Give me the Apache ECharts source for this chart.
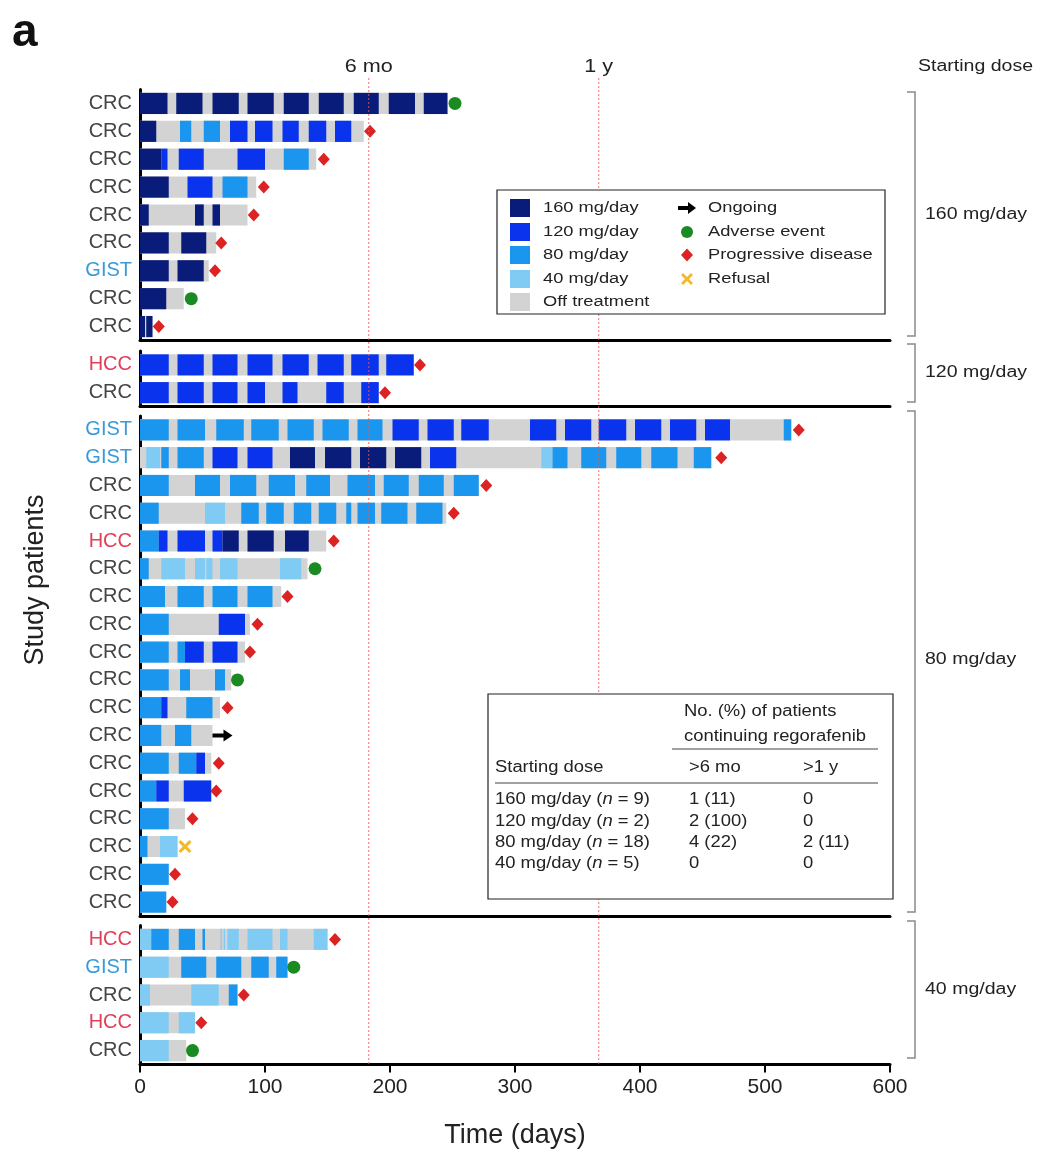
<!DOCTYPE html>
<html>
<head>
<meta charset="utf-8">
<script src="https://cdn.jsdelivr.net/npm/echarts@6/dist/echarts.min.js"></script>
<style>
  html, body { margin: 0; padding: 0; background: #fff; }
  #main { width: 1049px; height: 1157px; }
</style>
</head>
<body>
<div id="main"></div>
<script>
// tumour type of each patient, one list per starting dose
const tumor160 = ["CRC", "CRC", "CRC", "CRC", "CRC", "CRC", "GIST", "CRC", "CRC"];
const tumor120 = ["HCC", "CRC"];
const tumor80 = ["GIST", "GIST", "CRC", "CRC", "HCC", "CRC", "CRC", "CRC", "CRC", "CRC", "CRC", "CRC", "CRC", "CRC", "CRC", "CRC", "CRC", "CRC"];
const tumor40 = ["HCC", "GIST", "CRC", "HCC", "CRC"];

// last day on study (grey bar runs 0 -> here)
const end160 = [246, 179, 141, 93, 86, 61, 55, 35, 10];
const end120 = [219, 191];
const end80 = [521, 457, 271, 245, 149, 134, 113, 88, 84, 73, 64, 58, 57, 57, 36, 30, 23, 21];
const end40 = [150, 118, 78, 44, 37];

// why the course ended, and the day the marker sits on
// AE adverse event, PD progressive disease, ON ongoing, RF refusal
const event160 = [["AE", 252], ["PD", 184], ["PD", 147], ["PD", 99], ["PD", 91], ["PD", 65], ["PD", 60], ["AE", 41], ["PD", 15]];
const event120 = [["PD", 224], ["PD", 196]];
const event80 = [["PD", 527], ["PD", 465], ["PD", 277], ["PD", 251], ["PD", 155], ["AE", 140], ["PD", 118], ["PD", 94], ["PD", 88], ["AE", 78], ["PD", 70], ["ON", 66], ["PD", 63], ["PD", 61], ["PD", 42], ["RF", 36], ["PD", 28], ["PD", 26]];
const event40 = [["PD", 156], ["AE", 123], ["PD", 83], ["PD", 49], ["AE", 42]];

// dosing periods per patient: [start day, end day, mg/day]
const seg160 = [
  [[0, 22, 160], [29, 50, 160], [58, 79, 160], [86, 107, 160], [115, 135, 160], [143, 163, 160], [171, 191, 160], [199, 220, 160], [227, 246, 160]],
  [[0, 13, 160], [32, 41, 80], [51, 64, 80], [72, 86, 120], [92, 106, 120], [114, 127, 120], [135, 149, 120], [156, 169, 120]],
  [[0, 17, 160], [17, 22, 120], [31, 51, 120], [78, 100, 120], [115, 135, 80]],
  [[0, 23, 160], [38, 58, 120], [66, 86, 80]],
  [[0, 7, 160], [44, 51, 160], [58, 64, 160]],
  [[0, 23, 160], [33, 53, 160]],
  [[0, 23, 160], [30, 51, 160]],
  [[0, 21, 160]],
  [[0, 4, 160], [5, 10, 160]],
];
const seg120 = [
  [[0, 23, 120], [30, 51, 120], [58, 78, 120], [86, 106, 120], [114, 135, 120], [142, 163, 120], [169, 191, 120], [197, 219, 120]],
  [[0, 23, 120], [30, 51, 120], [58, 78, 120], [86, 100, 120], [114, 126, 120], [149, 163, 120], [177, 191, 120]],
];
const seg80 = [
  [[0, 23, 80], [30, 52, 80], [61, 83, 80], [89, 111, 80], [118, 139, 80], [146, 167, 80], [174, 194, 80], [202, 223, 120], [230, 251, 120], [257, 279, 120], [312, 333, 120], [340, 361, 120], [367, 389, 120], [396, 417, 120], [424, 445, 120], [452, 472, 120], [515, 521, 80]],
  [[5, 16, 40], [17, 23, 80], [30, 51, 80], [58, 78, 120], [86, 106, 120], [120, 140, 160], [148, 169, 160], [176, 197, 160], [204, 225, 160], [232, 253, 120], [321, 330, 40], [330, 342, 80], [353, 373, 80], [381, 401, 80], [409, 430, 80], [443, 457, 80]],
  [[0, 23, 80], [44, 64, 80], [72, 93, 80], [103, 124, 80], [133, 152, 80], [166, 188, 80], [195, 215, 80], [223, 243, 80], [251, 271, 80]],
  [[0, 15, 80], [52, 68, 40], [81, 95, 80], [101, 115, 80], [123, 137, 80], [143, 157, 80], [165, 169, 80], [174, 188, 80], [193, 214, 80], [221, 242, 80]],
  [[0, 15, 80], [15, 22, 120], [30, 52, 120], [58, 66, 120], [66, 79, 160], [86, 107, 160], [116, 135, 160]],
  [[0, 7, 80], [17, 36, 40], [44, 52, 40], [53, 58, 40], [64, 78, 40], [112, 129, 40]],
  [[0, 20, 80], [30, 51, 80], [58, 78, 80], [86, 106, 80]],
  [[0, 23, 80], [63, 84, 120]],
  [[0, 23, 80], [30, 36, 80], [36, 51, 120], [58, 78, 120]],
  [[0, 23, 80], [32, 40, 80], [60, 68, 80]],
  [[0, 17, 80], [17, 22, 120], [37, 58, 80]],
  [[0, 17, 80], [28, 41, 80]],
  [[0, 23, 80], [31, 45, 80], [45, 52, 120]],
  [[0, 13, 80], [13, 23, 120], [35, 57, 120]],
  [[0, 23, 80]],
  [[0, 6, 80], [16, 30, 40]],
  [[0, 23, 80]],
  [[0, 21, 80]],
];
const seg40 = [
  [[0, 9, 40], [9, 23, 80], [31, 44, 80], [50, 52, 80], [64.5, 65.5, 40], [67, 68, 40], [70, 79, 40], [86, 106, 40], [112, 118, 40], [139, 150, 40]],
  [[0, 23, 40], [33, 53, 80], [61, 81, 80], [89, 103, 80], [109, 118, 80]],
  [[0, 8, 40], [41, 63, 40], [71, 78, 80]],
  [[0, 23, 40], [31, 44, 40]],
  [[0, 23, 40]],
];

// reference times
const refDays = [183, 367];
const refNames = ["6 mo", "1 y"];

// summary table
const tableDose = ["160 mg/day ({i|n} = 9)", "120 mg/day ({i|n} = 2)", "80 mg/day ({i|n} = 18)", "40 mg/day ({i|n} = 5)"];
const table6mo = ["1 (11)", "2 (100)", "4 (22)", "0"];
const table1y = ["0", "0", "2 (11)", "0"];

const doseNames = ["160 mg/day", "120 mg/day", "80 mg/day", "40 mg/day"];

const FONT = "Liberation Sans, Arial, sans-serif";
const doseColor = { 160: "#0a1c7a", 120: "#0a33ee", 80: "#1a96ee", 40: "#80cbf3", 0: "#d3d3d3" };
const evColor = { AE: "#1a8a22", PD: "#dc2222", ON: "#000000", RF: "#f5b928" };
const evSymbol = {
  AE: "circle",
  PD: "diamond",
  ON: "path://M0,4L11,4L11,0L20,6L11,12L11,8L0,8Z",
  RF: "path://M2,0L6,4L10,0L12,2L8,6L12,10L10,12L6,8L2,12L0,10L4,6L0,2Z",
};
const evSize = { AE: 13, PD: [12, 13], ON: [20, 12], RF: 13 };

// panel layout (px)
const panelTop = [89.5, 351, 416, 925.5];
const panelHeight = [251, 55.5, 500, 139];
const left = 140, right = 159;

const tumors = [tumor160, tumor120, tumor80, tumor40];
const ends = [end160, end120, end80, end40];
const events = [event160, event120, event80, event40];
const segs = [seg160, seg120, seg80, seg40];

let myChart = echarts.init(document.getElementById("main"));

let grid = [], xAxis = [], yAxis = [], series = [];

tumors.forEach((tumor, g) => {
  const last = g === 3;
  grid.push({ left: left, right: right, top: panelTop[g], height: panelHeight[g] });
  xAxis.push({
    gridIndex: g,
    type: "value",
    min: 0,
    max: 600,
    interval: 100,
    axisLine: { show: true, onZero: false, lineStyle: { color: "#000", width: 3 } },
    axisTick: { show: last, length: 8, lineStyle: { color: "#000", width: 2 } },
    axisLabel: { show: last, fontSize: 21, color: "#222", margin: 12, fontFamily: FONT },
    splitLine: { show: false },
    name: last ? "Time (days)" : "",
    nameLocation: "middle",
    nameGap: 58,
    nameTextStyle: { fontSize: 27, color: "#222", fontFamily: FONT },
  });
  yAxis.push({
    gridIndex: g,
    type: "category",
    inverse: true,
    data: tumor,
    axisLine: { show: true, lineStyle: { color: "#000", width: 3 } },
    axisTick: { show: false },
    axisLabel: {
      interval: 0,
      margin: 8,
      fontSize: 20,
      color: "#444",
      fontFamily: FONT,
      formatter: (v) => (v === "GIST" ? "{g|GIST}" : v === "HCC" ? "{h|HCC}" : v),
      rich: {
        g: { color: "#3a9ad9", fontSize: 20, fontFamily: FONT },
        h: { color: "#e0405a", fontSize: 20, fontFamily: FONT },
      },
    },
    splitLine: { show: false },
  });

  // grey course first, then dosing periods on top
  let barData = [];
  ends[g].forEach((e, row) => barData.push([0, e, row, 0]));
  segs[g].forEach((list, row) => list.forEach((s) => barData.push([s[0], s[1], row, s[2]])));

  series.push({
    type: "custom",
    xAxisIndex: g,
    yAxisIndex: g,
    renderItem: (params, api) => {
      const row = api.value(2);
      const s = api.coord([api.value(0), row]);
      const e = api.coord([api.value(1), row]);
      const h = api.size([0, 1])[1] * 0.76;
      return {
        type: "rect",
        shape: { x: s[0], y: s[1] - h / 2, width: e[0] - s[0], height: h },
        style: { fill: doseColor[api.value(3)] },
      };
    },
    encode: { x: [0, 1], y: 2 },
    data: barData,
    z: 2,
  });

  series.push({
    type: "scatter",
    xAxisIndex: g,
    yAxisIndex: g,
    data: events[g].map((ev, row) => [ev[1], row, ev[0]]),
    symbol: (val) => evSymbol[val[2]],
    symbolSize: (val) => evSize[val[2]],
    itemStyle: { color: (p) => evColor[p.value[2]], opacity: 1 },
    z: 4,
  });
});

// overlay covering all panels for the 6 mo / 1 y guides
grid.push({ left: left, right: right, top: 78, height: 1064.5 - 78 });
xAxis.push({ gridIndex: 4, type: "value", min: 0, max: 600, show: false });
yAxis.push({ gridIndex: 4, type: "value", min: 0, max: 1, show: false });
series.push({
  type: "custom",
  xAxisIndex: 4,
  yAxisIndex: 4,
  renderItem: (params, api) => {
    const top = api.coord([api.value(0), 1]);
    const bottom = api.coord([api.value(0), 0]);
    return {
      type: "group",
      children: [
        {
          type: "line",
          shape: { x1: top[0], y1: top[1], x2: bottom[0], y2: bottom[1] },
          style: { stroke: "rgba(228,90,90,0.85)", lineWidth: 1, lineDash: [2, 2] },
        },
        {
          type: "text",
          x: top[0],
          y: top[1] - 11,
          scaleX: 1.2,
          style: {
            text: refNames[params.dataIndex],
            x: 0,
            y: 0,
            align: "center",
            verticalAlign: "middle",
            fontSize: 18,
            fill: "#222",
            fontFamily: FONT,
          },
        },
      ],
    };
  },
  data: refDays.map((d) => [d]),
  z: 6,
});

// legend, table, dose brackets
function txt(x, y, s, size, sx, extra) {
  return Object.assign(
    {
      type: "text",
      x: x,
      y: y,
      scaleX: sx || 1,
      style: {
        text: s,
        fontSize: size,
        fill: "#222",
        fontFamily: FONT,
        verticalAlign: "middle",
        rich: { i: { fontStyle: "italic", fontSize: size, fontFamily: FONT, fill: "#222" } },
      },
    },
    extra || {}
  );
}

let graphic = [];

graphic.push({ type: "text", left: 12, top: 10, style: { text: "a", fontSize: 46, fontWeight: "bold", fill: "#111", fontFamily: FONT } });
graphic.push(txt(36, 580, "Study patients", 27, 1, { rotation: Math.PI / 2, style: { text: "Study patients", fontSize: 27, fill: "#222", fontFamily: FONT, align: "center", verticalAlign: "middle" } }));
graphic.push(txt(918, 67, "Starting dose", 16, 1.22));

// brackets
const brackets = [[92, 336], [344, 402], [411, 912], [921, 1058]];
const bracketLabelY = [215, 373, 660, 990];
brackets.forEach((b, i) => {
  graphic.push({
    type: "polyline",
    shape: { points: [[907, b[0]], [915, b[0]], [915, b[1]], [907, b[1]]] },
    style: { stroke: "#8a8a8a", lineWidth: 1.5, fill: null },
  });
  graphic.push(txt(925, bracketLabelY[i], doseNames[i], 16, 1.22));
});

// legend box
const lgLeft = 497, lgTop = 190;
graphic.push({ type: "rect", shape: { x: lgLeft, y: lgTop, width: 388, height: 124 }, style: { fill: "#fff", stroke: "#222", lineWidth: 1.2 }, z: 20 });
const lgRows = [208, 232, 255, 279, 302];
[160, 120, 80, 40, 0].forEach((d, i) => {
  graphic.push({ type: "rect", shape: { x: 510, y: lgRows[i] - 9, width: 20, height: 18 }, style: { fill: doseColor[d] }, z: 21 });
  graphic.push(Object.assign(txt(543, lgRows[i], i < 4 ? doseNames[i] : "Off treatment", 15.5, 1.18), { z: 21 }));
});
const sx = 687;
graphic.push({ type: "polygon", shape: { points: [[sx - 9, lgRows[0] - 2], [sx + 1, lgRows[0] - 2], [sx + 1, lgRows[0] - 6], [sx + 9, lgRows[0]], [sx + 1, lgRows[0] + 6], [sx + 1, lgRows[0] + 2], [sx - 9, lgRows[0] + 2]] }, style: { fill: "#000" }, z: 21 });
graphic.push({ type: "circle", shape: { cx: sx, cy: lgRows[1], r: 6 }, style: { fill: evColor.AE }, z: 21 });
graphic.push({ type: "polygon", shape: { points: [[sx, lgRows[2] - 6.5], [sx + 6, lgRows[2]], [sx, lgRows[2] + 6.5], [sx - 6, lgRows[2]]] }, style: { fill: evColor.PD }, z: 21 });
graphic.push({
  type: "polygon",
  shape: { points: [[-4, -6], [0, -2], [4, -6], [6, -4], [2, 0], [6, 4], [4, 6], [0, 2], [-4, 6], [-6, 4], [-2, 0], [-6, -4]].map((p) => [sx + p[0], lgRows[3] + p[1]]) },
  style: { fill: evColor.RF },
  z: 21,
});
["Ongoing", "Adverse event", "Progressive disease", "Refusal"].forEach((s, i) => {
  graphic.push(Object.assign(txt(708, lgRows[i], s, 15.5, 1.18), { z: 21 }));
});

// summary table
graphic.push({ type: "rect", shape: { x: 488, y: 694, width: 405, height: 205 }, style: { fill: "#fff", stroke: "#222", lineWidth: 1.2 }, z: 20 });
graphic.push(Object.assign(txt(684, 712, "No. (%) of patients", 16, 1.15), { z: 21 }));
graphic.push(Object.assign(txt(684, 737, "continuing regorafenib", 16, 1.15), { z: 21 }));
graphic.push({ type: "line", shape: { x1: 672, y1: 749, x2: 878, y2: 749 }, style: { stroke: "#444", lineWidth: 1 }, z: 21 });
graphic.push(Object.assign(txt(495, 768, "Starting dose", 16, 1.15), { z: 21 }));
graphic.push(Object.assign(txt(689, 768, ">6 mo", 16, 1.15), { z: 21 }));
graphic.push(Object.assign(txt(803, 768, ">1 y", 16, 1.15), { z: 21 }));
graphic.push({ type: "line", shape: { x1: 495, y1: 783, x2: 878, y2: 783 }, style: { stroke: "#444", lineWidth: 1 }, z: 21 });
const tbRows = [800, 822, 843, 864];
tableDose.forEach((s, i) => {
  graphic.push(Object.assign(txt(495, tbRows[i], s, 16, 1.15), { z: 21 }));
  graphic.push(Object.assign(txt(689, tbRows[i], table6mo[i], 16, 1.15), { z: 21 }));
  graphic.push(Object.assign(txt(803, tbRows[i], table1y[i], 16, 1.15), { z: 21 }));
});

let option = {
  animation: false,
  backgroundColor: "#fff",
  textStyle: { fontFamily: FONT },
  grid: grid,
  xAxis: xAxis,
  yAxis: yAxis,
  series: series,
  graphic: graphic,
};

option && myChart.setOption(option);
</script>
</body>
</html>
